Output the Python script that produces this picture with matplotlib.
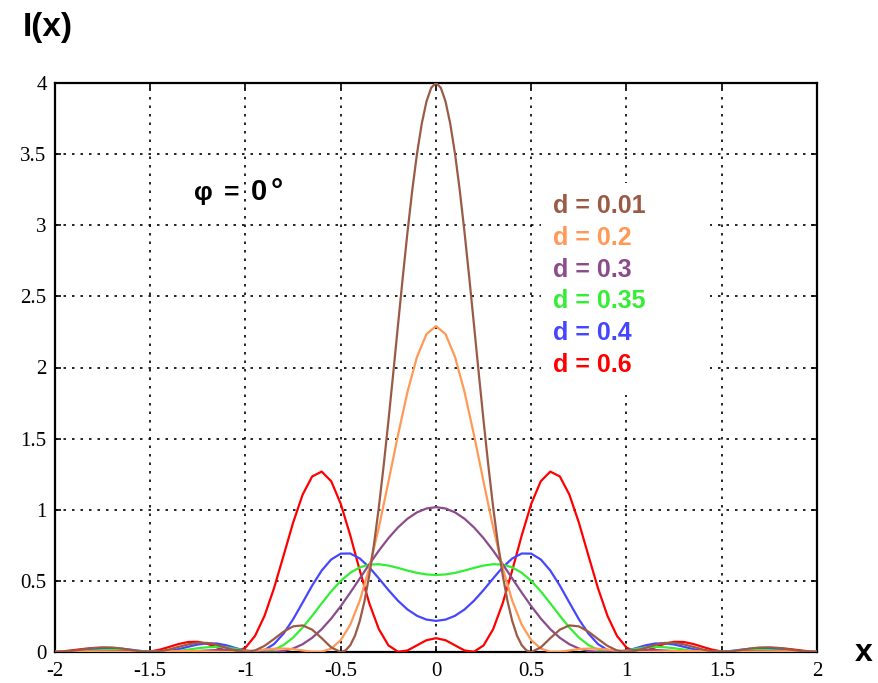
import numpy as np
import matplotlib
matplotlib.use("Agg")
import matplotlib.pyplot as plt
from matplotlib.patches import Rectangle

# I(x) sampled every 0.05 from x = 0 to x = 2 (curves are symmetric about x = 0)
x_half = [0.00, 0.05, 0.10, 0.15, 0.20, 0.25, 0.30, 0.35, 0.40, 0.45,
          0.50, 0.55, 0.60, 0.65, 0.70, 0.75, 0.80, 0.85, 0.90, 0.95,
          1.00, 1.05, 1.10, 1.15, 1.20, 1.25, 1.30, 1.35, 1.40, 1.45,
          1.50, 1.55, 1.60, 1.65, 1.70, 1.75, 1.80, 1.85, 1.90, 1.95, 2.00]

# the narrow d = 0.01 peak is read more finely near the centre
x_half_fine = [0.000, 0.025, 0.050, 0.075, 0.100, 0.125, 0.150, 0.175, 0.200, 0.225,
               0.250, 0.275, 0.300, 0.325, 0.350, 0.375, 0.400, 0.425, 0.450, 0.475,
               0.50, 0.55, 0.60, 0.65, 0.70, 0.75, 0.80, 0.85, 0.90, 0.95,
               1.00, 1.05, 1.10, 1.15, 1.20, 1.25, 1.30, 1.35, 1.40, 1.45,
               1.50, 1.55, 1.60, 1.65, 1.70, 1.75, 1.80, 1.85, 1.90, 1.95, 2.00]

I_d001 = [4.0000, 3.9671, 3.8701, 3.7126, 3.5006, 3.2423, 2.9473, 2.6265, 2.2912, 1.9525,
          1.6211, 1.3069, 1.0183, 0.7615, 0.5413, 0.3603, 0.2188, 0.1156, 0.0478, 0.0110,
          0.0000, 0.0320, 0.0972, 0.1570, 0.1870, 0.1801, 0.1432, 0.0918, 0.0432, 0.0107,
          0.0000, 0.0088, 0.0289, 0.0501, 0.0636, 0.0648, 0.0542, 0.0364, 0.0179, 0.0046,
          0.0000, 0.0040, 0.0137, 0.0244, 0.0317, 0.0331, 0.0283, 0.0194, 0.0097, 0.0025, 0.0000]

I_d02 = [2.2912, 2.2351, 2.0737, 1.8266, 1.5224, 1.1945, 0.8751, 0.5913, 0.3611, 0.1923,
         0.0831, 0.0242, 0.0020, 0.0018, 0.0108, 0.0199, 0.0243, 0.0229, 0.0172, 0.0101,
         0.0040, 0.0006, 0.0002, 0.0019, 0.0045, 0.0065, 0.0072, 0.0064, 0.0046, 0.0024,
         0.0008, 0.0000, 0.0003, 0.0013, 0.0024, 0.0032, 0.0034, 0.0029, 0.0020, 0.0010, 0.0002]

I_d03 = [1.0183, 1.0090, 0.9815, 0.9364, 0.8751, 0.7996, 0.7125, 0.6171, 0.5173, 0.4176,
         0.3222, 0.2354, 0.1605, 0.0999, 0.0547, 0.0244, 0.0072, 0.0005, 0.0009, 0.0050,
         0.0100, 0.0136, 0.0150, 0.0138, 0.0108, 0.0070, 0.0034, 0.0010, 0.0000, 0.0004,
         0.0018, 0.0033, 0.0045, 0.0049, 0.0045, 0.0034, 0.0020, 0.0008, 0.0001, 0.0001, 0.0005]

I_d035 = [0.5413, 0.5453, 0.5564, 0.5728, 0.5913, 0.6077, 0.6171, 0.6143, 0.5951, 0.5569,
          0.4997, 0.4263, 0.3420, 0.2546, 0.1720, 0.1017, 0.0490, 0.0159, 0.0014, 0.0016,
          0.0105, 0.0223, 0.0318, 0.0358, 0.0336, 0.0264, 0.0169, 0.0079, 0.0019, 0.0000,
          0.0018, 0.0059, 0.0104, 0.0136, 0.0142, 0.0124, 0.0088, 0.0047, 0.0015, 0.0001, 0.0005]

I_d04 = [0.2188, 0.2277, 0.2546, 0.2994, 0.3611, 0.4360, 0.5173, 0.5951, 0.6574, 0.6925,
         0.6915, 0.6506, 0.5728, 0.4671, 0.3476, 0.2302, 0.1296, 0.0560, 0.0136, 0.0000,
         0.0079, 0.0270, 0.0468, 0.0595, 0.0613, 0.0527, 0.0372, 0.0204, 0.0071, 0.0005,
         0.0013, 0.0075, 0.0159, 0.0229, 0.0259, 0.0241, 0.0184, 0.0110, 0.0043, 0.0005, 0.0004]

I_d06 = [0.0972, 0.0827, 0.0468, 0.0106, 0.0020, 0.0468, 0.1605, 0.3420, 0.5728, 0.8194,
         1.0415, 1.2003, 1.2682, 1.2342, 1.1065, 0.9097, 0.6784, 0.4496, 0.2546, 0.1130,
         0.0308, 0.0010, 0.0079, 0.0325, 0.0576, 0.0717, 0.0705, 0.0564, 0.0358, 0.0163,
         0.0035, 0.0001, 0.0047, 0.0138, 0.0228, 0.0278, 0.0273, 0.0217, 0.0136, 0.0058, 0.0010]

labels = ["d = 0.01", "d = 0.2", "d = 0.3", "d = 0.35", "d = 0.4", "d = 0.6"]
colors = ["#9b5a46", "#ff9955", "#8b4c8b", "#33ee33", "#4646ff", "#ff0000"]
series = [I_d001, I_d02, I_d03, I_d035, I_d04, I_d06]
xgrids = [x_half_fine, x_half, x_half, x_half, x_half, x_half]


def mirror(v, sign=1):
    v = np.asarray(v, dtype=float)
    return np.concatenate([sign * v[:0:-1], v])


W, H = 879, 683
fig = plt.figure(figsize=(W / 100, H / 100), dpi=100)
ax = fig.add_axes([55 / W, 31 / H, 762 / W, 569 / H])

# draw in reverse so brown lies on top
for xs, y, c in list(zip(xgrids, series, colors))[::-1]:
    ax.plot(mirror(xs, -1), mirror(y), color=c, lw=1.6, zorder=3)

ax.set_xlim(-2, 2)
ax.set_ylim(0, 4)
ax.set_xticks([-2, -1.5, -1, -0.5, 0, 0.5, 1, 1.5, 2])
ax.set_xticklabels(["-2", "-1.5", "-1", "-0.5", "0", "0.5", "1", "1.5", "2"])
ax.set_yticks([0, 0.5, 1, 1.5, 2, 2.5, 3, 3.5, 4])
ax.set_yticklabels(["0", "0.5", "1", "1.5", "2", "2.5", "3", "3.5", "4"])
ax.grid(True, color="black", linestyle=(0, (1.5, 3.6)), lw=1.2)
ax.tick_params(direction="in", length=4, width=1.2, top=True, right=True,
               labelsize=15)
ax.tick_params(axis="y", pad=6)
ax.tick_params(axis="x", pad=7)
for lab in ax.get_xticklabels() + ax.get_yticklabels():
    lab.set_family("Liberation Serif")
for s in ax.spines.values():
    s.set_linewidth(1.6)

# white box behind the curve labels hides the grid there
ax.add_patch(Rectangle((0.638, 0.452), 0.222, 0.372, transform=ax.transAxes,
                       facecolor="white", edgecolor="none", zorder=2))

fig.text(23 / W, 1 - 36 / H, "I(x)", fontsize=24, fontweight="bold",
         family="Liberation Sans", va="baseline", ha="left")
fig.text(864 / W, 1 - 661 / H, "x", fontsize=23, fontweight="bold",
         family="Liberation Sans", va="baseline", ha="center")

# "φ = 0°", spaced out as in the original
for s, px, fs in zip(["φ", "=", "0", "°"], [194, 224, 251, 271], [19, 19, 21, 22]):
    fig.text(px / W, 1 - 200 / H, s, fontsize=fs, fontweight="bold",
             family=["Liberation Sans", "DejaVu Sans"], va="baseline", ha="left")

for i, (lab, c) in enumerate(zip(labels, colors)):
    fig.text(553 / W, 1 - (213 + i * 31.8) / H, lab, fontsize=18, fontweight="bold",
             family="Liberation Sans", color=c, va="baseline", ha="left")

fig.savefig("out.png", dpi=100)
